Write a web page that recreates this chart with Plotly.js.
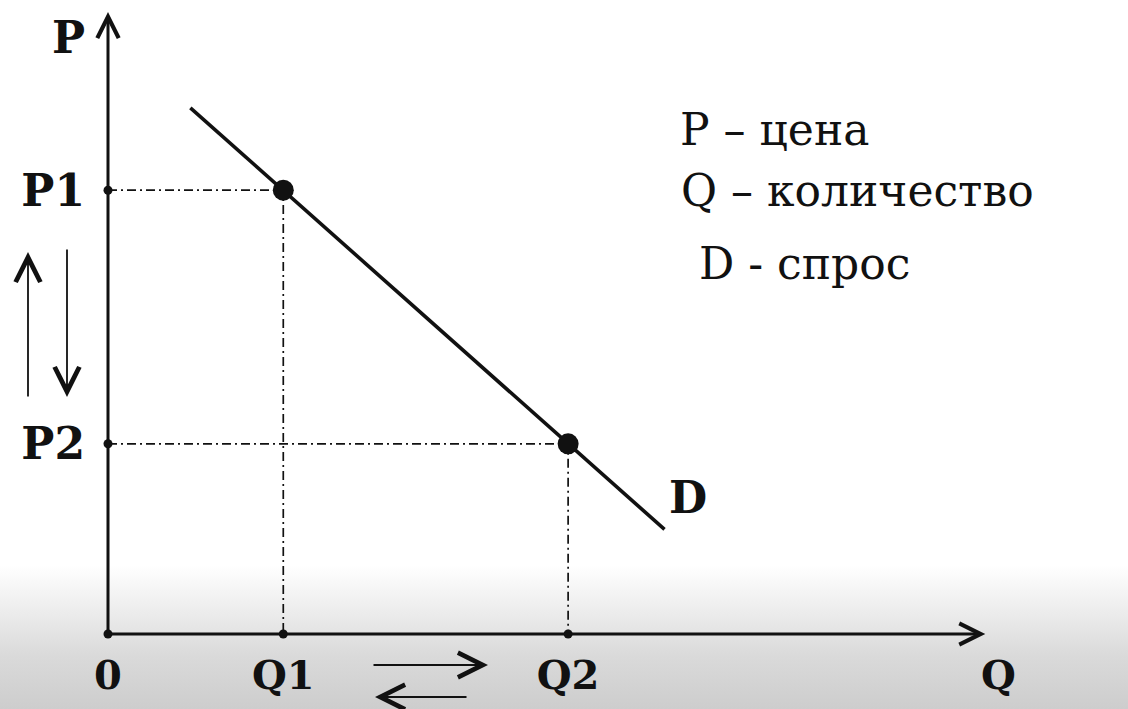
<!DOCTYPE html>
<html>
<head>
<meta charset="utf-8">
<script src="https://cdn.plot.ly/plotly-3.0.1.min.js"></script>
<style>
  html, body { margin: 0; padding: 0; }
  body {
    width: 1128px; height: 709px; overflow: hidden;
    background: linear-gradient(to bottom, #ffffff 0px, #ffffff 565px, #ededed 610px, #dadada 655px, #cdcdcd 709px);
  }
  #chart { width: 1128px; height: 709px; }
</style>
</head>
<body>
<div id="chart"></div>
<script>
// Price levels P1, P2 and the matching quantities Q1, Q2
const priceLabels = ['P1', 'P2'];
const priceLevels = [7, 3];
const quantityLabels = ['Q1', 'Q2'];
const quantityLevels = [2, 5.25];

// Demand line D (quantity, price)
const demandQ = [0.94, 2, 5.25, 6.35];
const demandP = [8.3, 7, 3, 1.65];

// Axis names and where they sit
const axisNames = { x: 'Q', y: 'P' };
const axisNamePos = { x: 10.16, y: 9.4 };
const axisEnds = { x: 10.01, y: 9.81 };

// Legend lines
const legendLines = ['P \u2013 цена', 'Q \u2013 количество', ' D - спрос'];
const legendQ = [6.5, 6.52, 6.56];
const legendP = [7.95, 7.0, 5.85];

const serif = 'DejaVu Serif, Liberation Serif, serif';
const ink = '#111111';

const traces = [];

// dash-dot guide lines from each point to both axes
for (let i = 0; i < priceLevels.length; i++) {
  traces.push({
    x: [0, quantityLevels[i], quantityLevels[i]],
    y: [priceLevels[i], priceLevels[i], 0],
    mode: 'lines', hoverinfo: 'skip', showlegend: false,
    line: { color: ink, width: 1.7, dash: '9px,4px,2px,4px' }
  });
}

// demand curve
traces.push({
  x: [demandQ[0], demandQ[demandQ.length - 1]],
  y: [demandP[0], demandP[demandP.length - 1]],
  mode: 'lines', showlegend: false, hoverinfo: 'skip',
  line: { color: ink, width: 3.6 }
});

// points on the demand curve
traces.push({
  x: quantityLevels, y: priceLevels,
  mode: 'markers', showlegend: false, cliponaxis: false,
  marker: { color: ink, size: 21 }
});

// small dots on the axes
traces.push({
  x: [0, quantityLevels[0], quantityLevels[1], 0, 0],
  y: [0, 0, 0, priceLevels[0], priceLevels[1]],
  mode: 'markers', showlegend: false, cliponaxis: false,
  marker: { color: ink, size: 9 }
});

const annotations = [];

// axes drawn as arrows
annotations.push({
  x: axisEnds.x, y: 0, ax: 0, ay: 0, xref: 'x', yref: 'y', axref: 'x', ayref: 'y',
  text: '', showarrow: true, arrowhead: 5, arrowsize: 1.4, arrowwidth: 3, arrowcolor: ink, standoff: 0
});
annotations.push({
  x: 0, y: axisEnds.y, ax: 0, ay: 0, xref: 'x', yref: 'y', axref: 'x', ayref: 'y',
  text: '', showarrow: true, arrowhead: 5, arrowsize: 1.4, arrowwidth: 3, arrowcolor: ink, standoff: 0
});

// price movement arrows beside the price axis
annotations.push({
  x: 28, y: 252, ax: 28, ay: 398, xref: 'paper', yref: 'paper',
  text: '', showarrow: true, arrowhead: 5, arrowsize: 2.7, arrowwidth: 1.8, arrowcolor: ink, standoff: 0
});
annotations.push({
  x: 67, y: 397, ax: 67, ay: 248, xref: 'paper', yref: 'paper',
  text: '', showarrow: true, arrowhead: 5, arrowsize: 2.7, arrowwidth: 1.8, arrowcolor: ink, standoff: 0
});

// quantity movement arrows under the quantity axis
annotations.push({
  x: 488, y: 665, ax: 372, ay: 665, xref: 'paper', yref: 'paper',
  text: '', showarrow: true, arrowhead: 5, arrowsize: 2.7, arrowwidth: 1.8, arrowcolor: ink, standoff: 0
});
annotations.push({
  x: 375, y: 697, ax: 468, ay: 697, xref: 'paper', yref: 'paper',
  text: '', showarrow: true, arrowhead: 5, arrowsize: 2.7, arrowwidth: 1.8, arrowcolor: ink, standoff: 0
});

// curve label
annotations.push({
  x: 6.62, y: 2.16, xref: 'x', yref: 'y', text: 'D', showarrow: false,
  font: { family: serif, size: 44, color: ink, weight: 'bold' }
});

// legend text
legendLines.forEach((t, i) => {
  annotations.push({
    x: legendQ[i], y: legendP[i], xref: 'x', yref: 'y', xanchor: 'left', yanchor: 'middle',
    text: t.replace(/ /g, '&nbsp;'), showarrow: false,
    font: { family: serif, size: 44, color: ink }
  });
});

// the arrow annotations above are placed in pixel space; convert to paper fractions
const W = 1128, H = 709, M = { l: 108, r: 91, t: 0, b: 75 };
const pw = W - M.l - M.r, ph = H - M.t - M.b;
annotations.forEach(a => {
  if (a.xref === 'paper') {
    a.x = (a.x - M.l) / pw; a.ax = (a.ax - M.l) / pw;
    a.y = 1 - (a.y - M.t) / ph; a.ay = 1 - (a.ay - M.t) / ph;
    a.axref = 'paper'; a.ayref = 'paper';
  }
});

const tickFont = { family: serif, size: 44, color: ink, weight: 'bold' };

const layout = {
  width: W, height: H,
  margin: M,
  paper_bgcolor: 'rgba(0,0,0,0)',
  plot_bgcolor: 'rgba(0,0,0,0)',
  showlegend: false,
  xaxis: {
    range: [0, 10.6], showgrid: false, zeroline: false, showline: false, ticks: '',
    tickmode: 'array',
    tickvals: [0, quantityLevels[0], quantityLevels[1], axisNamePos.x],
    ticktext: ['0', quantityLabels[0], quantityLabels[1], axisNames.x],
    tickfont: { family: serif, size: 40, color: ink, weight: 'bold' },
    ticklabelstandoff: 14, fixedrange: true
  },
  yaxis: {
    range: [0, 10], showgrid: false, zeroline: false, showline: false, ticks: '',
    tickmode: 'array',
    tickvals: [priceLevels[0], priceLevels[1], axisNamePos.y],
    ticktext: [priceLabels[0], priceLabels[1], axisNames.y],
    tickfont: tickFont, ticklabelstandoff: 22, fixedrange: true
  },
  annotations: annotations
};

Plotly.newPlot('chart', traces, layout, { displayModeBar: false, staticPlot: true });
</script>
</body>
</html>
